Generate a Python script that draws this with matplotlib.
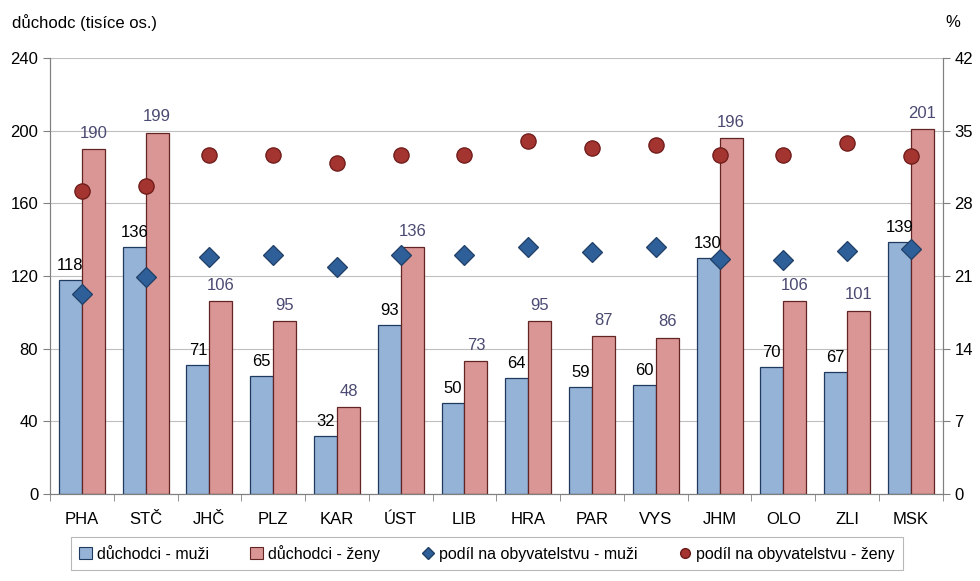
import matplotlib.pyplot as plt
import numpy as np
from matplotlib.lines import Line2D
from matplotlib.patches import Patch

plt.rcParams['font.family'] = ['Liberation Sans', 'DejaVu Sans']

# Data
kraje = ["PHA", "STČ", "JHČ", "PLZ", "KAR", "ÚST", "LIB", "HRA", "PAR", "VYS", "JHM", "OLO", "ZLI", "MSK"]
duchodci_muzi = [118, 136, 71, 65, 32, 93, 50, 64, 59, 60, 130, 70, 67, 139]
duchodci_zeny = [190, 199, 106, 95, 48, 136, 73, 95, 87, 86, 196, 106, 101, 201]
podil_muzi = [19.3, 20.9, 22.8, 23.0, 21.9, 23.0, 23.0, 23.8, 23.3, 23.8, 22.6, 22.5, 23.4, 23.6]
podil_zeny = [29.2, 29.7, 32.7, 32.7, 31.9, 32.7, 32.7, 34.0, 33.3, 33.6, 32.7, 32.7, 33.8, 32.6]

c_muzi = "#95B3D7"
c_zeny = "#D99694"
c_diam = "#2F5F98"
c_circ = "#A33430"
c_lab_z = "#4A4A72"

fig = plt.figure(figsize=(9.8, 5.81), dpi=100)
ax = fig.add_axes([0.051, 0.1497, 0.911, 0.7503])
ax2 = ax.twinx()

x = np.arange(len(kraje))
w = 0.36
ax.bar(x - w / 2, duchodci_muzi, w, color=c_muzi, edgecolor="#1F3A5F", linewidth=0.9, zorder=2)
ax.bar(x + w / 2, duchodci_zeny, w, color=c_zeny, edgecolor="#632523", linewidth=0.9, zorder=2)

for xi, v in zip(x, duchodci_muzi):
    ax.annotate(str(v), (xi - w / 2, v), xytext=(0, 5), textcoords="offset points",
                ha="center", va="bottom", fontsize=12, color="black", zorder=5)
for xi, v in zip(x, duchodci_zeny):
    ax.annotate(str(v), (xi + w / 2, v), xytext=(0, 6), textcoords="offset points",
                ha="center", va="bottom", fontsize=12, color=c_lab_z, zorder=5)

ax.set_xlim(-0.5, len(kraje) - 0.5)
ax.set_ylim(0, 240)
ax.set_yticks(np.arange(0, 241, 40))
ax.set_xticks(x)
ax.set_xticklabels(kraje, fontsize=12)
ax.set_xticks(np.arange(-0.5, len(kraje), 1), minor=True)
ax.tick_params(axis="x", which="major", length=0, pad=13)
ax.tick_params(axis="x", which="minor", length=5, direction="out", color="#808080")
ax.tick_params(axis="y", length=5, direction="out", color="#808080", labelsize=12)
ax.yaxis.grid(True, color="#BFBFBF", linewidth=0.8)
ax.set_axisbelow(True)

ax2.plot(x, podil_muzi, linestyle="none", marker="D", markersize=10.5, color=c_diam,
         markeredgecolor="#1F3F66", markeredgewidth=0.9, zorder=4)
ax2.plot(x, podil_zeny, linestyle="none", marker="o", markersize=11, color=c_circ,
         markeredgecolor="#6B1A18", markeredgewidth=0.9, zorder=4)
ax2.set_ylim(0, 42)
ax2.set_yticks(np.arange(0, 43, 7))
ax2.tick_params(axis="y", length=5, direction="out", color="#808080", labelsize=12)

for a in (ax, ax2):
    a.spines["top"].set_visible(False)
    for s in ("left", "right", "bottom"):
        a.spines[s].set_color("#808080")

fig.text(0.012, 0.962, "důchodc (tisíce os.)", fontsize=12, ha="left", va="center")
fig.text(0.972, 0.962, "%", fontsize=12, ha="center", va="center")

handles = [
    Patch(facecolor=c_muzi, edgecolor="#1F3A5F", linewidth=0.8),
    Patch(facecolor=c_zeny, edgecolor="#632523", linewidth=0.8),
    Line2D([], [], linestyle="none", marker="D", markersize=6, color=c_diam, markeredgecolor="#1F3F66"),
    Line2D([], [], linestyle="none", marker="o", markersize=7, color=c_circ, markeredgecolor="#6B1A18"),
]
labels = ["důchodci - muži", "důchodci - ženy", "podíl na obyvatelstvu - muži", "podíl na obyvatelstvu - ženy"]
leg = fig.legend(handles, labels, loc="center", bbox_to_anchor=(0.497, 0.048), ncol=4,
                 fontsize=11.5, frameon=True, fancybox=False, edgecolor="#A6A6A6",
                 handlelength=0.8, handleheight=0.8, handletextpad=0.3, columnspacing=2.6,
                 borderpad=0.5, borderaxespad=0)
leg.get_frame().set_linewidth(0.8)

fig.savefig("out.png", dpi=100)
